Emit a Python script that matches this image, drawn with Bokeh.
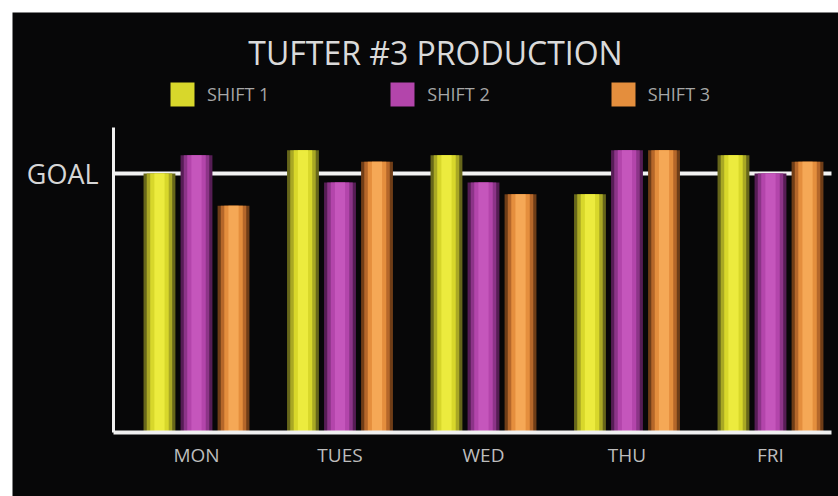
from bokeh.plotting import figure
from bokeh.models import (ColumnDataSource, Range1d, FixedTicker, Legend,
                          LegendItem, Label, LinearAxis)
from bokeh.transform import dodge
from bokeh.embed import file_html
from bokeh.resources import INLINE

# ---- data (GOAL = 100) ----
days = ["MON", "TUES", "WED", "THU", "FRI"]
shift1 = [100, 109, 107, 92, 107]
shift2 = [107, 96.5, 96.5, 109, 100]
shift3 = [87.5, 104.5, 92, 109, 104.5]
series_names = ["SHIFT 1", "SHIFT 2", "SHIFT 3"]
goal = 100
title_text = "TUFTER #3 PRODUCTION"
goal_label = "GOAL"

# axis extents (data units)
x_lo, x_hi = -0.578, 4.425
y_lo, y_hi = 0, 117.8

FONT = "Open Sans"
BG = "#070708"

source = ColumnDataSource(dict(x=list(range(len(days))), s1=shift1, s2=shift2, s3=shift3))

p = figure(width=838, height=496, output_backend="svg", toolbar_location=None,
           x_range=Range1d(-1.2822, 4.4739), y_range=Range1d(-24.71, 162.16),
           x_axis_location=None, y_axis_location=None,
           min_border_left=12, min_border_top=12, min_border_right=0, min_border_bottom=0)
p.background_fill_color = BG
p.border_fill_color = "white"
p.outline_line_color = None
p.xgrid.visible = False
p.ygrid.visible = False

# goal line (behind the bars)
p.segment(x0=[x_lo], x1=[x_hi], y0=[goal], y1=[goal], line_color="#f2f2f2", line_width=4)

# cylinder-like shading: stacked narrower, lighter bars
palettes = [
    ["#66661a", "#a9a824", "#d8d72b", "#eceb3e"],   # yellow
    ["#561d55", "#8c3488", "#b345ab", "#c556bc"],   # purple
    ["#6f3d17", "#b5672a", "#e48e3d", "#f5a856"],   # orange
]
layer_w = [1.0, 0.8, 0.58, 0.32]
bar_w = 0.222
offsets = [-0.258, 0.0, 0.258]
cols = ["s1", "s2", "s3"]

items = []
for k, col in enumerate(cols):
    rs = []
    for j, fw in enumerate(layer_w):
        r = p.vbar(x=dodge("x", offsets[k]), top=col, bottom=0, width=bar_w * fw,
                   source=source, fill_color=palettes[k][j], line_color=None)
        rs.append(r)
    items.append(LegendItem(label=series_names[k], renderers=[rs[2]]))

legend = Legend(items=items, orientation="horizontal", location=(155, 387),
                padding=0, margin=0, spacing=118, glyph_width=30, glyph_height=30,
                label_standoff=10, label_text_font=FONT, label_text_font_size="18px",
                label_text_color="#a6a6a6", background_fill_alpha=0,
                border_line_color=None)
p.add_layout(legend)

# title
p.add_layout(Label(x=423, y=444, x_units="screen", y_units="screen", text=title_text,
                   text_align="center", text_baseline="alphabetic", text_font=FONT,
                   text_font_size="32px", text_color="#dadada"))

# x axis at y = 0
xa = LinearAxis(fixed_location=0, bounds=(x_lo, x_hi))
xa.ticker = FixedTicker(ticks=list(range(len(days))))
xa.major_label_overrides = {i: d for i, d in enumerate(days)}
xa.axis_line_color = "#f0f0f0"
xa.axis_line_width = 4
xa.major_tick_line_color = None
xa.minor_tick_line_color = None
xa.major_tick_out = 0
xa.major_tick_in = 0
xa.major_label_standoff = 9
xa.major_label_text_font = FONT
xa.major_label_text_font_size = "19px"
xa.major_label_text_color = "#bdbdbd"
p.add_layout(xa, "below")

# y axis at the left end of the x axis
ya = LinearAxis(fixed_location=x_lo, bounds=(y_lo, y_hi))
ya.ticker = FixedTicker(ticks=[goal])
ya.major_label_overrides = {goal: goal_label}
ya.axis_line_color = "#f0f0f0"
ya.axis_line_width = 3
ya.major_tick_line_color = None
ya.minor_tick_line_color = None
ya.major_tick_out = 0
ya.major_tick_in = 0
ya.major_label_standoff = 15
ya.major_label_orientation = "horizontal"
ya.major_label_text_font = FONT
ya.major_label_text_font_size = "27px"
ya.major_label_text_color = "#d6d6d6"
p.add_layout(ya, "left")

open("out.html", "w").write(file_html(p, INLINE))
